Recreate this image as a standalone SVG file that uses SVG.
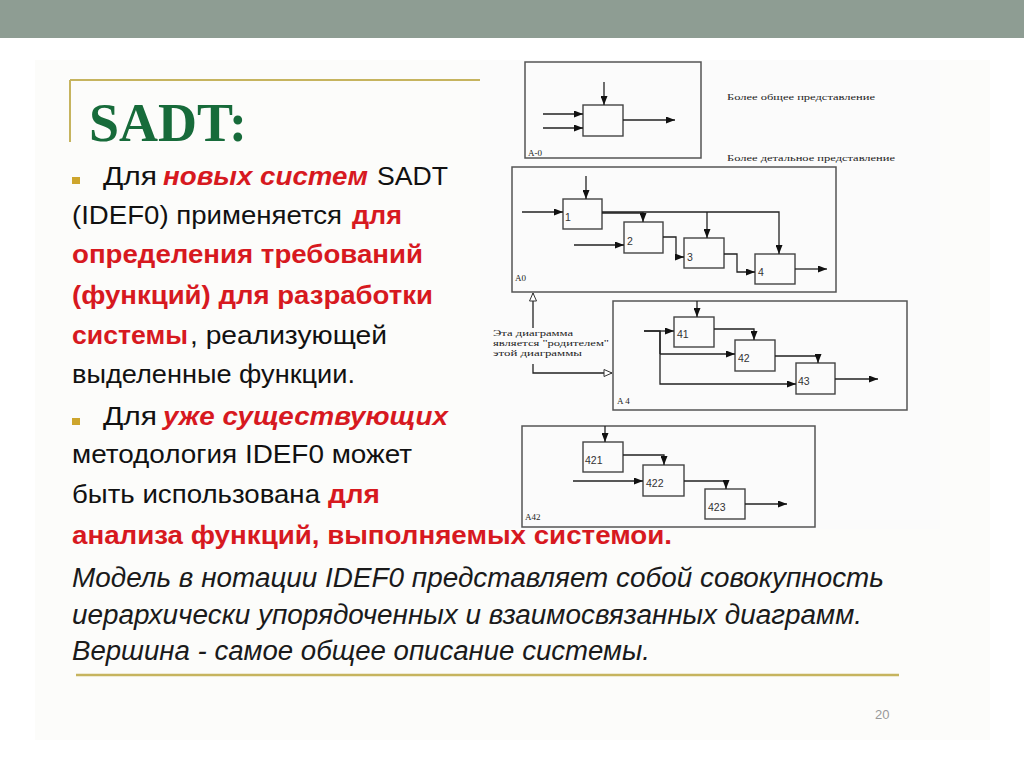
<svg xmlns="http://www.w3.org/2000/svg" width="1024" height="767" viewBox="0 0 1024 767">
<style>
.t{font-family:"Liberation Sans",Arial,sans-serif;font-size:26px;fill:#111}
.r{fill:#d7191f;font-weight:bold}
.ri{fill:#d7191f;font-weight:bold;font-style:italic}
.it{font-family:"Liberation Sans",Arial,sans-serif;font-size:27px;font-style:italic;fill:#1a1a1a}
.fr{fill:none;stroke:#555;stroke-width:1.5}
.bx{fill:none;stroke:#444;stroke-width:1.4}
.ln{fill:none;stroke:#222;stroke-width:1.3}
.ar{marker-end:url(#ah)}
.hl{marker-end:url(#hh)}
.sm{font-family:"Liberation Serif","DejaVu Serif",serif;font-size:9px;fill:#222}
.nm{font-family:"Liberation Sans",Arial,sans-serif;font-size:10.5px;fill:#333}
</style>
<defs>
<marker id="ah" markerWidth="9" markerHeight="7" refX="9" refY="3.5" orient="auto" markerUnits="userSpaceOnUse"><path d="M0,0 L9,3.5 L0,7 z" fill="#111"/></marker>
<marker id="hh" markerWidth="10" markerHeight="9" refX="9" refY="4.5" orient="auto" markerUnits="userSpaceOnUse"><path d="M1,1 L9,4.5 L1,8 z" fill="#fff" stroke="#333" stroke-width="1"/></marker>
</defs>
<rect width="1024" height="767" fill="#fff"/>
<rect x="0" y="0" width="1024" height="38" fill="#8e9d93"/>
<rect x="35" y="60" width="955" height="680" fill="#fcfcfa"/>
<!-- title -->
<path d="M70,80 H480 M70,80 V142" fill="none" stroke="#c6b45e" stroke-width="2"/>
<text x="89" y="141" font-family="'Liberation Serif',serif" font-size="54" font-weight="bold" fill="#176b3a" textLength="158" lengthAdjust="spacingAndGlyphs">SADT:</text>
<!-- bullets -->
<rect x="72" y="177" width="8" height="7" fill="#cda52c"/>
<rect x="72" y="418" width="8" height="7" fill="#cda52c"/>
<!-- left column text -->
<text class="t" x="103" y="185" textLength="54" lengthAdjust="spacingAndGlyphs">Для</text>
<text class="t ri" x="163" y="185" textLength="205" lengthAdjust="spacingAndGlyphs">новых систем</text>
<text class="t" x="377" y="185" textLength="71" lengthAdjust="spacingAndGlyphs">SADT</text>
<text class="t" x="72" y="224" textLength="270" lengthAdjust="spacingAndGlyphs">(IDEF0) применяется</text>
<text class="t r" x="352" y="224" textLength="50" lengthAdjust="spacingAndGlyphs">для</text>
<text class="t r" x="72" y="263" textLength="351" lengthAdjust="spacingAndGlyphs">определения требований</text>
<text class="t r" x="72" y="304" textLength="361" lengthAdjust="spacingAndGlyphs">(функций) для разработки</text>
<text class="t r" x="72" y="344" textLength="116" lengthAdjust="spacingAndGlyphs">системы</text>
<text class="t" x="190" y="344" textLength="197" lengthAdjust="spacingAndGlyphs">, реализующей</text>
<text class="t" x="72" y="383" textLength="283" lengthAdjust="spacingAndGlyphs">выделенные функции.</text>
<text class="t" x="103" y="425" textLength="54" lengthAdjust="spacingAndGlyphs">Для</text>
<text class="t ri" x="163" y="425" textLength="285" lengthAdjust="spacingAndGlyphs">уже существующих</text>
<text class="t" x="72" y="463" textLength="340" lengthAdjust="spacingAndGlyphs">методология IDEF0 может</text>
<text class="t" x="72" y="503" textLength="248" lengthAdjust="spacingAndGlyphs">быть использована</text>
<text class="t r" x="328" y="503" textLength="52" lengthAdjust="spacingAndGlyphs">для</text>
<text class="t r" x="72" y="544" textLength="600" lengthAdjust="spacingAndGlyphs">анализа функций, выполняемых системой.</text>
<!-- italic paragraph -->
<text class="it" x="72" y="587" textLength="812" lengthAdjust="spacingAndGlyphs">Модель в нотации IDEF0 представляет собой совокупность</text>
<text class="it" x="72" y="624" textLength="790" lengthAdjust="spacingAndGlyphs">иерархически упорядоченных и взаимосвязанных диаграмм.</text>
<text class="it" x="72" y="660" textLength="578" lengthAdjust="spacingAndGlyphs">Вершина - самое общее описание системы.</text>
<line x1="76" y1="675" x2="899" y2="675" stroke="#c6b45e" stroke-width="2.5"/>
<text x="875" y="719" font-family="'Liberation Sans',Arial,sans-serif" font-size="13" fill="#999">20</text>
<!-- diagram picture background -->
<rect x="480" y="60" width="460" height="469" fill="#fbfbfb"/>
<!-- side notes -->
<g id="notes">
<text class="sm" x="727" y="100" textLength="148" lengthAdjust="spacingAndGlyphs">Более общее представление</text>
<text class="sm" x="727" y="161" textLength="168" lengthAdjust="spacingAndGlyphs">Более детальное представление</text>
<text class="sm" x="493" y="336" textLength="80" lengthAdjust="spacingAndGlyphs">Эта диаграмма</text>
<text class="sm" x="493" y="346" textLength="116" lengthAdjust="spacingAndGlyphs">является "родителем"</text>
<text class="sm" x="493" y="356" textLength="89" lengthAdjust="spacingAndGlyphs">этой диаграммы</text>
</g>
<!-- frames and boxes -->
<g id="A-0">
<rect class="fr" x="525" y="62" width="176" height="96"/>
<text class="sm" x="528" y="156">A-0</text>
<rect class="bx" x="583" y="105" width="40" height="31"/>
</g>
<g id="A0">
<rect class="fr" x="512" y="167" width="324" height="125"/>
<text class="sm" x="515" y="281">A0</text>
<g id="b1"><rect class="bx" x="563" y="199" width="39" height="30"/><text class="nm" x="565" y="221">1</text></g>
<g id="b2"><rect class="bx" x="624" y="222" width="39" height="31"/><text class="nm" x="627" y="245">2</text></g>
<g id="b3"><rect class="bx" x="684" y="238" width="40" height="30"/><text class="nm" x="687" y="261">3</text></g>
<g id="b4"><rect class="bx" x="755" y="254" width="40" height="30"/><text class="nm" x="758" y="276">4</text></g>
</g>
<g id="A4">
<rect class="fr" x="613" y="301" width="294" height="109"/>
<text class="sm" x="617" y="404">A 4</text>
<g id="b41"><rect class="bx" x="674" y="317" width="40" height="30"/><text class="nm" x="677" y="338">41</text></g>
<g id="b42"><rect class="bx" x="735" y="340" width="40" height="31"/><text class="nm" x="738" y="362">42</text></g>
<g id="b43"><rect class="bx" x="796" y="363" width="39" height="31"/><text class="nm" x="798" y="385">43</text></g>
</g>
<g id="A42">
<rect class="fr" x="522" y="426" width="293" height="101"/>
<text class="sm" x="525" y="520">A42</text>
<g id="b421"><rect class="bx" x="583" y="442" width="40" height="30"/><text class="nm" x="585" y="464">421</text></g>
<g id="b422"><rect class="bx" x="643" y="465" width="41" height="31"/><text class="nm" x="646" y="487">422</text></g>
<g id="b423"><rect class="bx" x="705" y="489" width="40" height="30"/><text class="nm" x="708" y="511">423</text></g>
</g>
<!-- connectors -->
<g id="connectors">
<path class="ln ar" d="M604,82 V105"/>
<path class="ln ar" d="M543,114 H583"/>
<path class="ln ar" d="M543,128 H583"/>
<path class="ln ar" d="M623,120 H675"/>
<path class="ln ar" d="M586,176 V199"/>
<path class="ln ar" d="M522,212 H563"/>
<path class="ln ar" d="M602,212 H779 V254"/>
<path class="ln" d="M602,213 H643" stroke-width="1.8"/>
<path class="ln ar" d="M643,212 V222"/>
<path class="ln ar" d="M707,212 V238"/>
<path class="ln ar" d="M574,245 H624"/>
<path class="ln ar" d="M663,237 H676 V257 H684"/>
<path class="ln ar" d="M724,254 H737 V272 H755"/>
<path class="ln ar" d="M795,269 H827"/>
<path class="ln ar" d="M697,301 V317"/>
<path class="ln ar" d="M644,331 H674"/>
<path class="ln" d="M644,331 H660 V354" stroke-width="2"/>
<path class="ln ar" d="M660,331 V384 H796"/>
<path class="ln ar" d="M660,354 H735"/>
<path class="ln ar" d="M714,329 H754 V340"/>
<path class="ln ar" d="M775,356 H818 V363"/>
<path class="ln ar" d="M835,379 H878"/>
<path class="ln hl" d="M533,328 V293"/>
<path class="ln hl" d="M533,364 V373 H612"/>
<path class="ln ar" d="M605,426 V442"/>
<path class="ln ar" d="M623,455 H664 V465"/>
<path class="ln ar" d="M573,481 H643"/>
<path class="ln ar" d="M684,481 H726 V489"/>
<path class="ln ar" d="M745,504 H787"/>
</g>
</svg>
